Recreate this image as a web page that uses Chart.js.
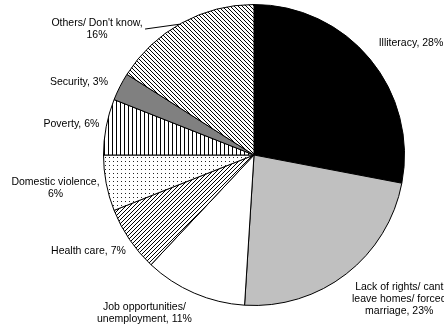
<!DOCTYPE html>
<html>
<head>
<meta charset="utf-8">
<script src="https://cdn.jsdelivr.net/npm/chart.js@4/dist/chart.umd.min.js"></script>
<style>
  html, body { margin: 0; padding: 0; background: #fff; }
  #wrap { width: 444px; height: 327px; position: relative; }
</style>
</head>
<body>
<div id="wrap"><canvas id="c" width="444" height="327"></canvas></div>
<script>
// ---- data ----
const categories = [
  "Illiteracy",
  "Lack of rights/ cant\nleave homes/ forced\nmarriage",
  "Job opportunities/\nunemployment",
  "Health care",
  "Domestic violence",
  "Poverty",
  "Security",
  "Others/ Don't know"
];
const values = [28, 23, 11, 7, 6, 6, 3, 16];
const valueOnNewLine = [false, false, false, false, true, false, false, true];

// ---- styling (not data) ----
function makePattern(kind) {
  const s = 4;
  const c = document.createElement('canvas');
  c.width = s; c.height = s;
  const g = c.getContext('2d');
  g.fillStyle = '#fff';
  g.fillRect(0, 0, s, s);
  g.fillStyle = '#000';
  for (let i = 0; i < s; i++) {
    if (kind === 'down') g.fillRect(i, i, 1, 1);
    if (kind === 'up') g.fillRect(s - 1 - i, i, 1, 1);
    if (kind === 'vert') g.fillRect(0, i, 1, 1);
  }
  if (kind === 'dots') { g.fillStyle = '#222'; g.fillRect(1, 1, 1, 1); }
  return document.getElementById('c').getContext('2d').createPattern(c, 'repeat');
}
const fills = [
  '#000000',
  '#c0c0c0',
  '#ffffff',
  makePattern('up'),
  makePattern('dots'),
  makePattern('vert'),
  '#808080',
  makePattern('down')
];
// label block anchor (center of first line), relative to pie center, in radius units
const labelPos = [
  [1.043, -0.744], [0.965, 0.877], [-0.728, 1.010], [-1.100, 0.638],
  [-1.319, 0.179], [-1.213, -0.206], [-1.163, -0.485], [-1.043, -0.877]
];
const leader = { index: 7, from: [-0.724, -0.837], toDir: [-74, -130] };

const labelPlugin = {
  id: 'pieLabels',
  afterDatasetsDraw(chart) {
    const ctx = chart.ctx;
    const meta = chart.getDatasetMeta(0);
    const a0 = meta.data[0];
    const cx = a0.x, cy = a0.y, r = a0.outerRadius;
    ctx.save();
    ctx.fillStyle = '#000';
    ctx.font = '10.5px "Liberation Sans", Arial, sans-serif';
    ctx.textAlign = 'center';
    ctx.textBaseline = 'middle';
    categories.forEach((cat, i) => {
      const text = cat + ',' + (valueOnNewLine[i] ? '\n' : ' ') + values[i] + '%';
      const lines = text.split('\n');
      const x = cx + labelPos[i][0] * r;
      const y = cy + labelPos[i][1] * r;
      lines.forEach((ln, k) => ctx.fillText(ln, x, y + k * 12.2));
    });
    // leader line
    const L = Math.hypot(leader.toDir[0], leader.toDir[1]);
    ctx.strokeStyle = '#000';
    ctx.lineWidth = 1;
    ctx.beginPath();
    ctx.moveTo(cx + leader.from[0] * r, cy + leader.from[1] * r);
    ctx.lineTo(cx + leader.toDir[0] / L * r, cy + leader.toDir[1] / L * r);
    ctx.stroke();
    ctx.restore();
  }
};

new Chart(document.getElementById('c'), {
  type: 'pie',
  data: {
    labels: categories,
    datasets: [{
      data: values,
      backgroundColor: fills,
      borderColor: '#000',
      borderWidth: 1,
      borderAlign: 'center'
    }]
  },
  options: {
    responsive: false,
    animation: false,
    devicePixelRatio: 1,
    layout: { padding: { left: 103, right: 39, top: 4, bottom: 21 } },
    plugins: { legend: { display: false }, tooltip: { enabled: false } }
  },
  plugins: [labelPlugin]
});
</script>
</body>
</html>
